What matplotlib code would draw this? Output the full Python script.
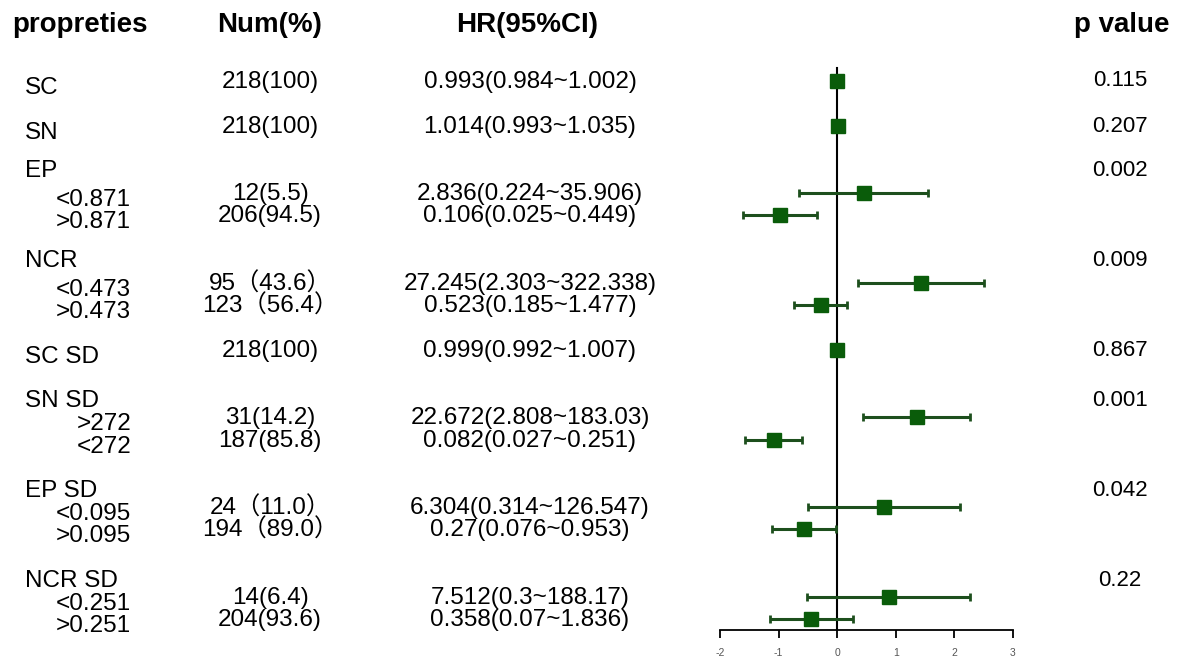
import numpy as np
import matplotlib.pyplot as plt

plt.rcParams['axes.unicode_minus'] = False

# table rows (group headers have no values)
labels = ["SC", "SN", "EP", "<0.871", ">0.871", "NCR", "<0.473", ">0.473",
          "SC SD", "SN SD", ">272", "<272", "EP SD", "<0.095", ">0.095",
          "NCR SD", "<0.251", ">0.251"]
is_sub = [False, False, False, True, True, False, True, True,
          False, False, True, True, False, True, True, False, True, True]
nums = ["218(100)", "218(100)", "", "12(5.5)", "206(94.5)", "", "95（43.6）", "123（56.4）",
        "218(100)", "", "31(14.2)", "187(85.8)", "", "24（11.0）", "194（89.0）",
        "", "14(6.4)", "204(93.6)"]
hr = [0.993, 1.014, None, 2.836, 0.106, None, 27.245, 0.523,
      0.999, None, 22.672, 0.082, None, 6.304, 0.27, None, 7.512, 0.358]
lo = [0.984, 0.993, None, 0.224, 0.025, None, 2.303, 0.185,
      0.992, None, 2.808, 0.027, None, 0.314, 0.076, None, 0.3, 0.07]
hi = [1.002, 1.035, None, 35.906, 0.449, None, 322.338, 1.477,
      1.007, None, 183.03, 0.251, None, 126.547, 0.953, None, 188.17, 1.836]
pvals = ["0.115", "0.207", "0.002", "", "", "0.009", "", "",
         "0.867", "0.001", "", "", "0.042", "", "", "0.22", "", ""]
xticks = [-2, -1, 0, 1, 2, 3]

# vertical layout in pixels (from top)
row_y = [81, 126, 170, 193, 215, 260, 283, 305, 350, 400, 417, 440, 490, 507, 529, 580, 597, 619]

W, H = 1177, 662
fig = plt.figure(figsize=(W / 100, H / 100), dpi=100)
ax0 = fig.add_axes([0, 0, 1, 1])
ax0.set_xlim(0, W)
ax0.set_ylim(H, 0)
ax0.axis('off')

fam = ['Liberation Sans', 'Noto Sans CJK SC', 'DejaVu Sans']
fs = 17.5

ax0.text(12, 25, "propreties", fontsize=20, fontweight='bold', family=fam, va='center')
ax0.text(270, 25, "Num(%)", fontsize=20, fontweight='bold', family=fam, va='center', ha='center')
ax0.text(527, 25, "HR(95%CI)", fontsize=20, fontweight='bold', family=fam, va='center', ha='center')
ax0.text(1170, 25, "p value", fontsize=20, fontweight='bold', family=fam, va='center', ha='right')

for i, lab in enumerate(labels):
    y = row_y[i]
    if is_sub[i]:
        ax0.text(131, y + 7, lab, fontsize=fs, family=fam, va='center', ha='right')
    elif hr[i] is None:
        ax0.text(25, y + 1, lab, fontsize=fs, family=fam, va='center')
    else:
        ax0.text(25, y + 7, lab, fontsize=fs, family=fam, va='center')
    if nums[i]:
        ax0.text(270, y + 1, nums[i], fontsize=fs, family=fam, va='center', ha='center')
    if hr[i] is not None:
        ax0.text(530, y + 1, f"{hr[i]}({lo[i]}~{hi[i]})", fontsize=fs,
                 family=fam, va='center', ha='center')
    if pvals[i]:
        ax0.text(1120, y, pvals[i], fontsize=16, family=fam, va='center', ha='center')

# forest plot
x0, x1 = 720, 1013
ytop, ybot = 60, 630
ax = fig.add_axes([x0 / W, (H - ybot) / H, (x1 - x0) / W, (ybot - ytop) / H])
ax.set_xlim(-2, 3)
ax.set_ylim(ybot, ytop)
ax.patch.set_alpha(0)
for s in ['top', 'right', 'left']:
    ax.spines[s].set_visible(False)
ax.spines['bottom'].set_linewidth(1.3)
ax.set_yticks([])
ax.set_xticks(xticks)
ax.tick_params(axis='x', length=6, width=1.3, labelsize=7.5, labelcolor='#555555', pad=7)
for t in ax.get_xticklabels():
    t.set_family(fam)
ax.plot([0, 0], [68, ybot], color='black', lw=1.5)

for i in range(len(labels)):
    if hr[i] is None:
        continue
    m = np.log10(hr[i])
    l = np.log10(lo[i])
    h = np.log10(hi[i])
    if h - l > 0.1:
        ax.errorbar(m, row_y[i], xerr=[[m - l], [h - m]], fmt='none',
                    ecolor='#1d4f1d', elinewidth=2.2, capsize=3, capthick=2)
    ax.plot(m, row_y[i], 's', color='#0a5c0a', markersize=10)

fig.savefig("out.png", dpi=100)
